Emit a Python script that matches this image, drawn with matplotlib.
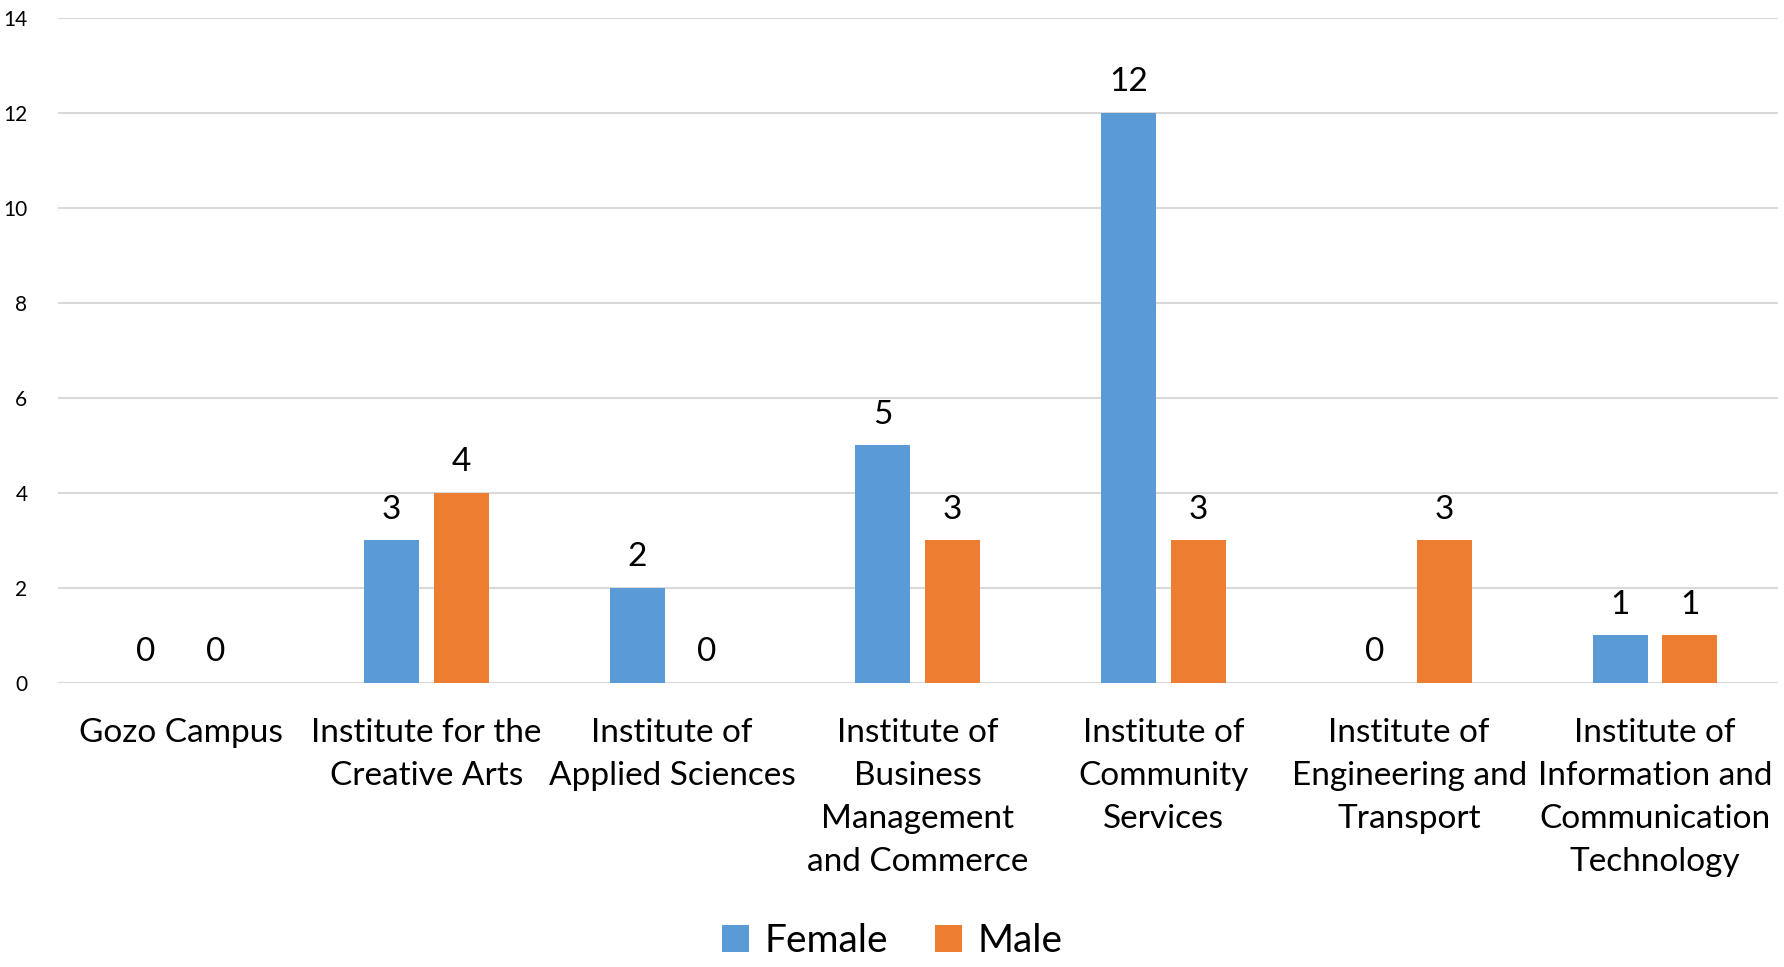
import numpy as np
import matplotlib.pyplot as plt

# data
categories = ["Gozo Campus", "Institute for the\nCreative Arts", "Institute of\nApplied Sciences",
              "Institute of\nBusiness\nManagement\nand Commerce", "Institute of\nCommunity\nServices",
              "Institute of\nEngineering and\nTransport", "Institute of\nInformation and\nCommunication\nTechnology"]
female = [0, 3, 2, 5, 12, 0, 1]
male = [0, 4, 0, 3, 3, 3, 1]

plt.rcParams['font.family'] = ['Lato', 'DejaVu Sans']

fig = plt.figure(figsize=(17.84, 9.67), dpi=100)
ax = fig.add_axes([0.0325, 0.2937, 0.964, 0.6877])

x = np.arange(len(categories))
w = 0.224
off = 0.142
b1 = ax.bar(x - off, female, w, color='#5B9BD5', label='Female', zorder=3)
b2 = ax.bar(x + off, male, w, color='#ED7D31', label='Male', zorder=3)

for bars in (b1, b2):
    for r in bars:
        ax.text(r.get_x() + r.get_width() / 2, r.get_height() + 0.33, str(int(r.get_height())),
                ha='center', va='bottom', fontsize=24)

ax.set_xlim(-0.5, len(categories) - 0.5)
ax.set_ylim(0, 14)
ax.set_yticks(range(0, 15, 2))
ax.yaxis.grid(True, color='#D9D9D9', linewidth=1.5, zorder=0)
ax.set_xticks(x)
ax.set_xticklabels(categories, fontsize=24, linespacing=1.55)
ax.tick_params(axis='x', length=0, pad=25)
ax.tick_params(axis='y', length=0, labelsize=15, pad=22)
for s in ax.spines.values():
    s.set_visible(False)

fig.legend(loc='lower center', bbox_to_anchor=(0.5, -0.028), ncol=2, frameon=False,
           fontsize=28, handlelength=0.7, handleheight=0.7, columnspacing=1.2, handletextpad=0.4)

fig.savefig('out.png')
